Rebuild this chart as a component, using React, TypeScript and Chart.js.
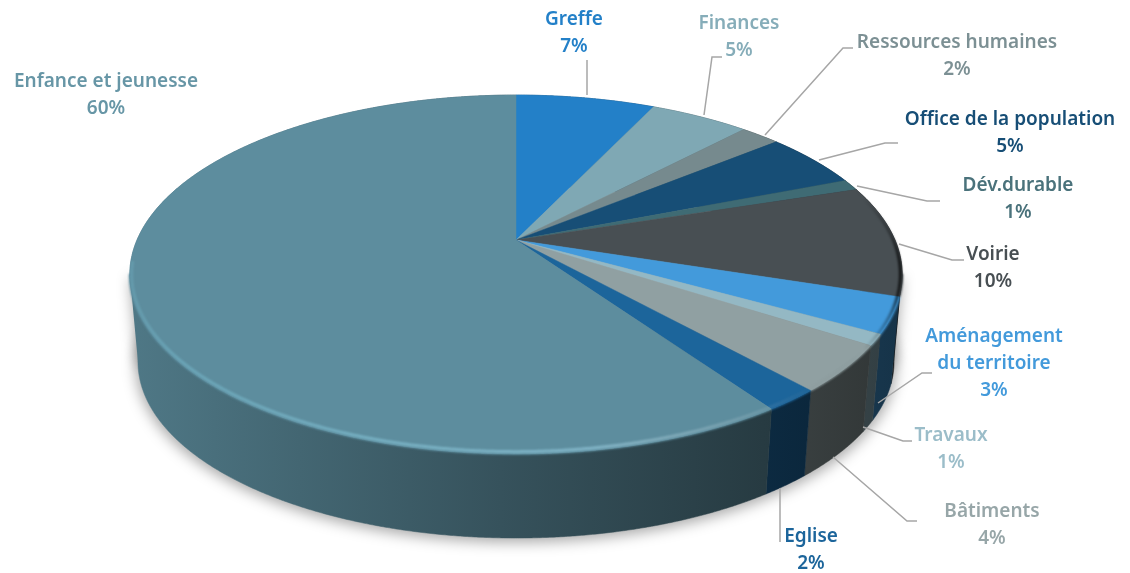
import React, { useEffect, useRef } from "react";
import { Chart, registerables } from "chart.js";

Chart.register(...registerables);

const categories = ["Greffe", "Finances", "Ressources humaines", "Office de la population", "Dév.durable", "Voirie", "Aménagement du territoire", "Travaux", "Bâtiments", "Eglise", "Enfance et jeunesse"];
const shares = [7, 5, 2, 5, 1, 10, 3.2, 1, 4.2, 2, 59.6];
const shareLabels = ["7%", "5%", "2%", "5%", "1%", "10%", "3%", "1%", "4%", "2%", "60%"];
const sliceColors = ["#2380C8", "#7FA8B4", "#768A8E", "#174E76", "#3F6B74", "#484F53", "#439ADB", "#94B8C4", "#90A0A2", "#1C659B", "#5D8D9E"];
const labelColors = ["#2380C8", "#86ADB9", "#7C9094", "#174E76", "#4A727B", "#484F53", "#439ADB", "#9BBDC9", "#97A6A8", "#1C659B", "#6796A6"];

// layout of label blocks: centre x, y of first line centre, lines
const labelLayout: [number, number, string[]][] = [
  [574, 20, ["Greffe"]],
  [739, 24, ["Finances"]],
  [957, 43, ["Ressources humaines"]],
  [1010, 120, ["Office de la population"]],
  [1018, 186, ["Dév.durable"]],
  [993, 255, ["Voirie"]],
  [994, 337, ["Aménagement", "du territoire"]],
  [951, 436, ["Travaux"]],
  [992, 512, ["Bâtiments"]],
  [811, 537, ["Eglise"]],
  [106, 82, ["Enfance et jeunesse"]],
];
const leaders: number[][][] = [
  [[587, 60], [587, 95]],
  [[722, 57], [712, 57], [704, 115]],
  [[853, 48], [843, 48], [765, 135]],
  [[898, 143], [885, 143], [819, 160]],
  [[940, 201], [927, 201], [857, 186]],
  [[964, 260], [952, 260], [899, 244]],
  [[932, 373], [922, 373], [878, 403]],
  [[912, 441], [903, 441], [863, 427]],
  [[917, 521], [907, 521], [833, 457]],
  [[780, 542], [780, 488]],
];

type Face = { cx: number; y0: number; a: number; b: number; p: number };
const TOP: Face = { cx: 516, y0: 240, a: 379, b: 172.8, p: 0.192 };
const LOW: Face = { cx: 516, y0: 328, a: 371, b: 169.7, p: 0.192 };
const FRONT_FROM = 0.19;
const FRONT_TO = Math.PI - 0.19;
const SILHOUETTE = [Math.asin(TOP.p), Math.PI - Math.asin(TOP.p)];

const project = (f: Face, t: number): [number, number] => {
  const u = Math.cos(t), v = Math.sin(t), w = 1 - f.p * v;
  return [f.cx + (f.a * u) / w, f.y0 + (f.b * v) / w];
};
const trace = (ctx: CanvasRenderingContext2D, f: Face, from: number, to: number, move: boolean) => {
  const n = Math.max(2, Math.ceil(Math.abs(to - from) / 0.005));
  for (let i = 0; i <= n; i++) {
    const [x, y] = project(f, from + ((to - from) * i) / n);
    if (i === 0 && move) ctx.moveTo(x, y);
    else ctx.lineTo(x, y);
  }
};
const rgb = (hex: string) => [1, 3, 5].map((i) => parseInt(hex.slice(i, i + 2), 16));
const shade = (hex: string, k: number) => {
  const [r, g, b] = rgb(hex);
  return `rgb(${Math.round(r * k)},${Math.round(g * k)},${Math.round(b * k)})`;
};
const wallStops: [number, number][] = [[0, 0.85], [0.22, 0.72], [0.48, 0.58], [0.82, 0.42], [1, 0.33]];
const wallPaint = (ctx: CanvasRenderingContext2D, color: string) => {
  const g = ctx.createLinearGradient(130, 0, 902, 0);
  wallStops.forEach(([s, k]) => g.addColorStop(s, shade(color, k)));
  return g;
};

const pie3d = {
  id: "pie3d",
  beforeDatasetsDraw(chart: any) {
    const ctx: CanvasRenderingContext2D = chart.ctx;
    const arcs = chart.getDatasetMeta(0).data;
    ctx.save();
    // ground shadow
    ctx.save();
    ctx.filter = "blur(7px)";
    ctx.fillStyle = "rgba(0,0,0,0.34)";
    ctx.beginPath();
    trace(ctx, { ...LOW, y0: LOW.y0 + 3, a: LOW.a + 2, b: LOW.b + 1 }, 0, Math.PI * 2, true);
    ctx.closePath();
    ctx.fill();
    // side silhouette of the drum, shadow part
    SILHOUETTE.forEach((t) => {
      const a = project({ ...TOP, y0: TOP.y0 + 3 }, t);
      const b = project({ ...LOW, y0: LOW.y0 + 3 }, t);
      ctx.beginPath();
      ctx.moveTo(a[0], a[1]);
      ctx.lineTo(b[0], b[1]);
      ctx.lineTo(TOP.cx, b[1]);
      ctx.closePath();
      ctx.fill();
    });
    ctx.restore();
    // closes the gap between the two rims at the left and right extremes
    SILHOUETTE.forEach((t) => {
      const arc = arcs.find((e: any) => e.startAngle <= t && t <= e.endAngle) || arcs[arcs.length - 1];
      const a = project(TOP, t);
      const b = project(LOW, t);
      ctx.fillStyle = wallPaint(ctx, arc.options.backgroundColor);
      ctx.beginPath();
      ctx.moveTo(a[0], a[1]);
      ctx.lineTo(b[0], b[1]);
      ctx.lineTo(a[0] + (TOP.cx - a[0]) * 0.12, (a[1] + b[1]) / 2);
      ctx.closePath();
      ctx.fill();
    });
    // walls
    arcs.forEach((arc: any) => {
      const g = wallPaint(ctx, arc.options.backgroundColor);
      ctx.fillStyle = g;
      ctx.strokeStyle = g;
      ctx.lineWidth = 0.5;
      ctx.beginPath();
      trace(ctx, TOP, arc.startAngle, arc.endAngle, true);
      trace(ctx, LOW, arc.endAngle, arc.startAngle, false);
      ctx.closePath();
      ctx.fill();
      ctx.stroke();
    });
    // soft blend from each wall into its face, near side only
    ctx.save();
    ctx.filter = "blur(1.2px)";
    ctx.lineWidth = 3;
    arcs.forEach((arc: any) => {
      const from = Math.max(arc.startAngle, FRONT_FROM);
      const to = Math.min(arc.endAngle, FRONT_TO);
      if (to <= from) return;
      ctx.strokeStyle = arc.options.backgroundColor;
      ctx.beginPath();
      trace(ctx, { ...TOP, a: TOP.a - 0.5, b: TOP.b - 0.5 }, from, to, true);
      ctx.stroke();
    });
    ctx.restore();
    // faces
    arcs.forEach((arc: any) => {
      const color = arc.options.backgroundColor;
      ctx.fillStyle = color;
      ctx.strokeStyle = color;
      ctx.lineWidth = 0.5;
      ctx.beginPath();
      ctx.moveTo(TOP.cx, TOP.y0);
      trace(ctx, TOP, arc.startAngle, arc.endAngle, false);
      ctx.closePath();
      ctx.fill();
      ctx.stroke();
    });
    // bevel along the near rim
    const rim = ctx.createLinearGradient(130, 0, 902, 0);
    rim.addColorStop(0, "rgba(130,205,225,0.22)");
    rim.addColorStop(0.06, "rgba(130,205,225,0.38)");
    rim.addColorStop(0.3, "rgba(150,220,240,0.45)");
    rim.addColorStop(0.6, "rgba(170,225,245,0.48)");
    rim.addColorStop(0.82, "rgba(255,255,255,0.10)");
    rim.addColorStop(0.95, "rgba(0,0,0,0)");
    rim.addColorStop(0.985, "rgba(0,0,0,0.35)");
    rim.addColorStop(1, "rgba(0,0,0,0.8)");
    ctx.save();
    ctx.filter = "blur(1.1px)";
    ctx.strokeStyle = rim;
    ctx.lineWidth = 3;
    ctx.beginPath();
    trace(ctx, { ...TOP, a: TOP.a - 1.8, b: TOP.b - 1.8 }, -0.3, Math.PI - 0.12, true);
    ctx.stroke();
    ctx.restore();
    // leader lines
    ctx.strokeStyle = "#A6A6A6";
    ctx.lineWidth = 1.5;
    leaders.forEach((pts) => {
      ctx.beginPath();
      pts.forEach(([x, y], i) => (i ? ctx.lineTo(x, y) : ctx.moveTo(x, y)));
      ctx.stroke();
    });
    // labels
    ctx.textAlign = "center";
    ctx.textBaseline = "middle";
    ctx.font = '600 19px "Noto Sans"';
    labelLayout.forEach(([x, y, lines], i) => {
      ctx.fillStyle = labelColors[i];
      [...lines, shareLabels[i]].forEach((t, j) => ctx.fillText(t, x, y + j * 27));
    });
    ctx.restore();
    return false;
  },
};

export default function App() {
  const ref = useRef<HTMLCanvasElement>(null);
  useEffect(() => {
    document.body.style.margin = "0";
    const chart = new Chart(ref.current!, {
      type: "pie",
      data: { labels: categories, datasets: [{ data: shares, backgroundColor: sliceColors, borderWidth: 0 }] },
      options: {
        responsive: false,
        animation: false,
        plugins: { legend: { display: false }, tooltip: { enabled: false } },
      },
      plugins: [pie3d],
    });
    return () => chart.destroy();
  }, []);
  return (
    <div style={{ width: 1130, height: 573, overflow: "hidden", background: "#fff" }}>
      <canvas ref={ref} width={1130} height={573} />
    </div>
  );
}
